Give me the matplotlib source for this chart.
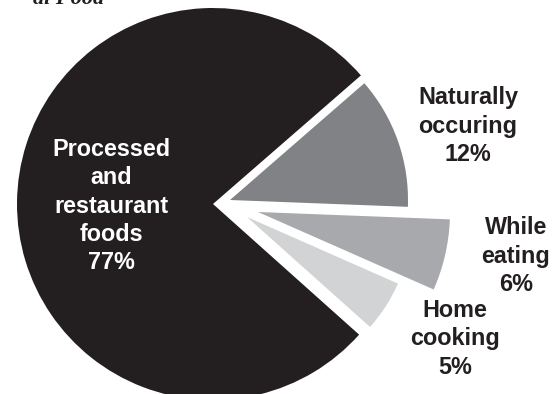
import matplotlib
matplotlib.use("Agg")
import matplotlib.pyplot as plt

# data
labels = ["Processed\nand\nrestaurant\nfoods", "Home\ncooking", "While\neating", "Naturally\noccuring"]
values = [77, 5, 6, 12]

# styles / layout (pixel coords, y up)
colors = ["#231f20", "#d1d3d4", "#a7a9ac", "#808285"]
centers = [(213, 190), (247, 177), (258, 182), (230, 194)]
radii = [196, 165, 192, 178]
label_pos = [(111, 188), (455, 55), (516, 138), (468, 268)]
label_colors = ["white", "#231f20", "#231f20", "#231f20"]

fig = plt.figure(figsize=(5.56, 3.94), dpi=100)
ax = fig.add_axes([0, 0, 1, 1])

wedges, _ = ax.pie(values, colors=colors, startangle=41, counterclock=True,
                   center=(213, 190), radius=196)

# each slice pulled out on its own
for w, c, r in zip(wedges, centers, radii):
    w.set_center(c)
    w.set_radius(r)

for lab, v, (x, y), col in zip(labels, values, label_pos, label_colors):
    ax.text(x, y, f"{lab}\n{v}%", ha="center", va="center", color=col,
            fontsize=16.8, fontweight="bold", family="Liberation Sans",
            linespacing=1.28)

# clipped title remains at the top
ax.text(104, 390, "al Food", ha="right", va="baseline", fontsize=16,
        fontweight="bold", fontstyle="italic", family="Liberation Serif",
        color="#231f20")

ax.set_xlim(0, 556)
ax.set_ylim(0, 394)
ax.axis("off")

fig.savefig("out.png", dpi=100)
